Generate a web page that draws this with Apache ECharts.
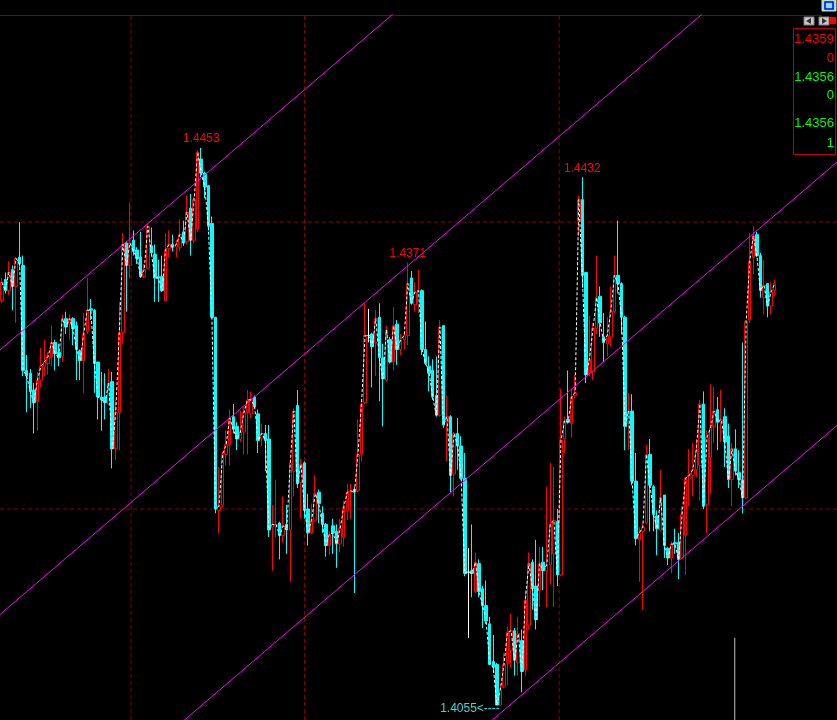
<!DOCTYPE html>
<html><head><meta charset="utf-8">
<script src="https://cdn.jsdelivr.net/npm/echarts@6/dist/echarts.min.js"></script>
<style>html,body{margin:0;padding:0;background:#000;}#c{width:837px;height:720px;}</style>
</head><body><div id="c"></div>
<script>
// ---- data ----
const opens = [
1.4344,1.4359,1.4351,1.4366,1.4354,1.4375,1.4369,1.4294,1.4292,1.4280,
1.4272,1.4287,1.4297,1.4299,1.4303,1.4314,1.4307,1.4304,1.4331,1.4327,
1.4331,1.4326,1.4308,1.4301,1.4322,1.4338,1.4337,1.4300,1.4275,1.4275,
1.4270,1.4286,1.4238,1.4264,1.4321,1.4385,1.4369,1.4387,1.4380,1.4375,
1.4361,1.4367,1.4383,1.4377,1.4361,1.4361,1.4344,1.4381,1.4384,1.4382,
1.4382,1.4393,1.4386,1.4410,1.4387,1.4395,1.4445,1.4435,1.4426,1.4399,
1.4332,1.4194,1.4198,1.4234,1.4241,1.4261,1.4254,1.4245,1.4250,1.4264,
1.4263,1.4275,1.4263,1.4245,1.4249,1.4245,1.4182,1.4183,1.4185,1.4176,
1.4184,1.4180,1.4222,1.4269,1.4214,1.4228,1.4195,1.4178,1.4187,1.4207,
1.4192,1.4184,1.4169,1.4183,1.4179,1.4170,1.4175,1.4194,1.4207,1.4209,
1.4208,1.4234,1.4271,1.4319,1.4320,1.4314,1.4332,1.4303,1.4287,1.4316,
1.4300,1.4327,1.4309,1.4316,1.4319,1.4360,1.4341,1.4341,1.4351,1.4309,
1.4297,1.4294,1.4276,1.4262,1.4326,1.4257,1.4261,1.4220,1.4249,1.4240,
1.4217,1.4150,1.4151,1.4136,1.4156,1.4138,1.4126,1.4113,1.4086,1.4084,
1.4055,1.4068,1.4085,1.4094,1.4108,1.4085,1.4101,1.4080,1.4112,1.4157,
1.4140,1.4137,1.4157,1.4151,1.4155,1.4163,1.4186,1.4148,1.4245,1.4259,
1.4256,1.4276,1.4401,1.4416,1.4364,1.4292,1.4293,1.4324,1.4347,1.4318,
1.4313,1.4318,1.4336,1.4362,1.4356,1.4332,1.4256,1.4265,1.4215,1.4173,
1.4179,1.4185,1.4234,1.4211,1.4190,1.4180,1.4205,1.4167,1.4160,1.4171,
1.4171,1.4160,1.4176,1.4218,1.4219,1.4223,1.4226,1.4270,1.4198,1.4232,
1.4254,1.4266,1.4257,1.4261,1.4247,1.4216,1.4238,1.4221,1.4216,1.4203,
1.4330,1.4375,1.4391,1.4376,1.4346,1.4356,1.4340,1.4351];
const closes = [
1.4357,1.4351,1.4364,1.4354,1.4374,1.4370,1.4294,1.4290,1.4279,1.4271,
1.4287,1.4297,1.4300,1.4304,1.4314,1.4306,1.4303,1.4331,1.4325,1.4331,
1.4324,1.4309,1.4301,1.4320,1.4337,1.4337,1.4299,1.4275,1.4273,1.4271,
1.4285,1.4238,1.4264,1.4321,1.4384,1.4369,1.4385,1.4379,1.4374,1.4361,
1.4366,1.4397,1.4378,1.4360,1.4360,1.4351,1.4380,1.4384,1.4382,1.4384,
1.4391,1.4385,1.4407,1.4387,1.4416,1.4450,1.4435,1.4425,1.4397,1.4332,
1.4195,1.4197,1.4234,1.4241,1.4260,1.4252,1.4245,1.4250,1.4264,1.4273,
1.4273,1.4268,1.4244,1.4249,1.4244,1.4180,1.4184,1.4184,1.4176,1.4183,
1.4180,1.4228,1.4265,1.4213,1.4227,1.4194,1.4178,1.4187,1.4206,1.4199,
1.4184,1.4169,1.4177,1.4178,1.4170,1.4181,1.4196,1.4207,1.4208,1.4207,
1.4234,1.4270,1.4319,1.4319,1.4311,1.4331,1.4303,1.4288,1.4323,1.4300,
1.4326,1.4309,1.4316,1.4319,1.4356,1.4342,1.4350,1.4351,1.4309,1.4299,
1.4292,1.4275,1.4262,1.4325,1.4255,1.4261,1.4219,1.4249,1.4240,1.4217,
1.4149,1.4150,1.4149,1.4157,1.4136,1.4126,1.4115,1.4084,1.4082,1.4055,
1.4066,1.4084,1.4107,1.4108,1.4087,1.4106,1.4079,1.4130,1.4156,1.4138,
1.4116,1.4156,1.4151,1.4155,1.4184,1.4187,1.4148,1.4244,1.4258,1.4257,
1.4275,1.4278,1.4416,1.4362,1.4291,1.4302,1.4324,1.4346,1.4328,1.4314,
1.4319,1.4336,1.4362,1.4356,1.4332,1.4254,1.4265,1.4215,1.4174,1.4178,
1.4182,1.4234,1.4212,1.4191,1.4181,1.4203,1.4169,1.4160,1.4170,1.4170,
1.4159,1.4191,1.4217,1.4219,1.4223,1.4237,1.4270,1.4197,1.4246,1.4253,
1.4265,1.4257,1.4259,1.4243,1.4216,1.4238,1.4222,1.4216,1.4203,1.4329,
1.4372,1.4390,1.4376,1.4351,1.4355,1.4340,1.4350,1.4356];
const lows = [
1.4342,1.4349,1.4348,1.4337,1.4328,1.4368,1.4290,1.4264,1.4267,1.4249,
1.4251,1.4282,1.4290,1.4291,1.4297,1.4294,1.4297,1.4300,1.4320,1.4316,
1.4312,1.4287,1.4287,1.4278,1.4320,1.4330,1.4278,1.4259,1.4251,1.4259,
1.4269,1.4224,1.4230,1.4237,1.4313,1.4336,1.4360,1.4376,1.4370,1.4360,
1.4360,1.4366,1.4376,1.4343,1.4343,1.4350,1.4343,1.4375,1.4379,1.4375,
1.4379,1.4383,1.4384,1.4376,1.4385,1.4393,1.4432,1.4417,1.4394,1.4331,
1.4192,1.4178,1.4196,1.4226,1.4226,1.4249,1.4237,1.4243,1.4234,1.4234,
1.4260,1.4267,1.4235,1.4240,1.4222,1.4175,1.4151,1.4175,1.4159,1.4171,
1.4163,1.4143,1.4204,1.4210,1.4188,1.4188,1.4169,1.4177,1.4186,1.4185,
1.4178,1.4161,1.4162,1.4163,1.4153,1.4164,1.4168,1.4187,1.4188,1.4135,
1.4207,1.4229,1.4270,1.4314,1.4282,1.4290,1.4272,1.4254,1.4286,1.4299,
1.4294,1.4298,1.4305,1.4309,1.4312,1.4341,1.4336,1.4335,1.4305,1.4298,
1.4279,1.4273,1.4261,1.4261,1.4253,1.4229,1.4207,1.4204,1.4223,1.4216,
1.4147,1.4103,1.4132,1.4135,1.4132,1.4110,1.4113,1.4084,1.4078,1.4055,
1.4055,1.4067,1.4069,1.4082,1.4076,1.4076,1.4064,1.4076,1.4109,1.4123,
1.4109,1.4125,1.4137,1.4125,1.4141,1.4125,1.4140,1.4147,1.4235,1.4256,
1.4246,1.4274,1.4390,1.4353,1.4285,1.4290,1.4287,1.4320,1.4318,1.4300,
1.4304,1.4311,1.4335,1.4349,1.4320,1.4237,1.4237,1.4212,1.4169,1.4143,
1.4123,1.4184,1.4179,1.4179,1.4162,1.4179,1.4160,1.4155,1.4149,1.4163,
1.4145,1.4159,1.4148,1.4197,1.4204,1.4218,1.4201,1.4195,1.4178,1.4206,
1.4242,1.4237,1.4243,1.4225,1.4210,1.4197,1.4219,1.4210,1.4192,1.4202,
1.4328,1.4363,1.4375,1.4346,1.4334,1.4332,1.4334,1.4347];
const highs = [
1.4360,1.4364,1.4372,1.4369,1.4375,1.4400,1.4376,1.4305,1.4295,1.4285,
1.4293,1.4310,1.4316,1.4307,1.4326,1.4316,1.4313,1.4334,1.4336,1.4334,
1.4332,1.4329,1.4309,1.4335,1.4360,1.4345,1.4338,1.4300,1.4293,1.4292,
1.4295,1.4293,1.4273,1.4343,1.4392,1.4386,1.4414,1.4394,1.4382,1.4393,
1.4370,1.4399,1.4396,1.4384,1.4373,1.4376,1.4392,1.4394,1.4391,1.4387,
1.4402,1.4401,1.4419,1.4420,1.4418,1.4451,1.4453,1.4436,1.4426,1.4404,
1.4332,1.4225,1.4236,1.4251,1.4266,1.4270,1.4257,1.4265,1.4268,1.4280,
1.4279,1.4276,1.4266,1.4256,1.4255,1.4255,1.4198,1.4216,1.4186,1.4204,
1.4198,1.4229,1.4267,1.4280,1.4231,1.4229,1.4206,1.4199,1.4219,1.4209,
1.4197,1.4185,1.4179,1.4188,1.4184,1.4188,1.4201,1.4213,1.4213,1.4211,
1.4259,1.4272,1.4342,1.4338,1.4321,1.4337,1.4342,1.4313,1.4326,1.4318,
1.4339,1.4330,1.4320,1.4320,1.4371,1.4365,1.4357,1.4366,1.4352,1.4329,
1.4304,1.4302,1.4304,1.4330,1.4326,1.4276,1.4262,1.4250,1.4260,1.4247,
1.4235,1.4167,1.4184,1.4164,1.4159,1.4140,1.4144,1.4118,1.4105,1.4085,
1.4070,1.4092,1.4111,1.4120,1.4110,1.4118,1.4109,1.4137,1.4164,1.4159,
1.4173,1.4168,1.4168,1.4211,1.4228,1.4225,1.4195,1.4281,1.4261,1.4294,
1.4281,1.4291,1.4419,1.4432,1.4364,1.4333,1.4328,1.4376,1.4354,1.4335,
1.4332,1.4354,1.4376,1.4401,1.4357,1.4333,1.4278,1.4277,1.4235,1.4182,
1.4185,1.4241,1.4245,1.4212,1.4194,1.4223,1.4205,1.4168,1.4172,1.4181,
1.4178,1.4197,1.4218,1.4238,1.4242,1.4245,1.4273,1.4279,1.4251,1.4284,
1.4282,1.4275,1.4280,1.4267,1.4256,1.4242,1.4252,1.4237,1.4314,1.4330,
1.4392,1.4397,1.4393,1.4378,1.4373,1.4356,1.4357,1.4359];
const slotCount = 235;                      // bar slots on the time axis (incl. empty right margin)
const categories = Array.from({length: slotCount}, (_, i) => String(i));
// channel lines: [[barIndex, price], [barIndex, price]]
const channelLines = [
  [[-0.5, 1.43086], [234.5, 1.48197]],
  [[-0.5, 1.41197], [234.5, 1.46309]],
  [[-0.5, 1.39316], [234.5, 1.44428]],
  [[-0.5, 1.37436], [234.5, 1.42547]]
];
const gridPrices = [1.4400, 1.4195];
const gridBars = [36.3, 85.0, 156.5];
const volumeSpike = [[205.8, 1.4103], [205.8, 1.4044]];
const peakLabels = [[56, 1.4453, '1.4453'], [114, 1.4371, '1.4371'], [163, 1.4432, '1.4432']];
const lowLabel = [139, 1.4055, '1.4055<----'];
const panelTexts = ['1.4359', '0', '1.4356', '0', '1.4356', '1'];
const panelColors = ['#ff0000', '#ff0000', '#00ff00', '#00ff00', '#00ff00', '#00ff00'];
const panelY = [39, 58, 77, 95, 123, 143];
const yMin = 1.40443, yMax = 1.45479;

// ---- chart ----
const chart = echarts.init(document.getElementById('c'), null, {renderer: 'canvas'});
const FONT = 'Liberation Sans, Arial, sans-serif';
const candleData = opens.map((o, i) => [o, closes[i], lows[i], highs[i]]);
const xLo = -0.5, xHi = slotCount - 0.5;

const series = [];
const gridStyle = {color: '#8c0000', type: [4, 3], width: 1};
gridPrices.forEach(p => series.push({
  type: 'line', xAxisIndex: 1, yAxisIndex: 0, data: [[xLo, p], [xHi, p]], symbol: 'none', silent: true,
  lineStyle: gridStyle, z: 1
}));
gridBars.forEach(b => series.push({
  type: 'line', xAxisIndex: 1, yAxisIndex: 0, data: [[b, yMin], [b, yMax]], symbol: 'none', silent: true,
  lineStyle: gridStyle, z: 1
}));
series.push({
  type: 'line', xAxisIndex: 1, yAxisIndex: 0, data: volumeSpike, symbol: 'none', silent: true,
  lineStyle: {color: '#bbbbbb', width: 1}, z: 1
});
series.push({
  type: 'candlestick', xAxisIndex: 0, yAxisIndex: 0, data: candleData,
  barWidth: 3, z: 3,
  itemStyle: {color: '#000000', color0: '#00ffff', borderColor: '#ff0000', borderColor0: '#00ffff',
              borderColorDoji: '#ffffff', borderWidth: 1},
  markPoint: {
    symbol: 'circle', symbolSize: 0, silent: true,
    data: peakLabels.map(p => ({coord: [p[0], p[1]], value: p[2],
      label: {show: true, position: 'top', distance: 3, formatter: p[2], color: '#ff0000', fontSize: 12, fontFamily: FONT}}))
      .concat([{coord: [lowLabel[0], lowLabel[1]], value: lowLabel[2],
      label: {show: true, position: 'left', distance: 0, offset: [3, 4], formatter: lowLabel[2], color: '#33dddd', fontSize: 12, fontFamily: FONT}}])
  }
});
series.push({
  type: 'line', xAxisIndex: 0, yAxisIndex: 0, data: closes, symbol: 'none', silent: true,
  lineStyle: {color: '#ffffff', width: 1, type: [3, 2]}, z: 5
});
channelLines.forEach(l => series.push({
  type: 'line', xAxisIndex: 1, yAxisIndex: 0, data: l, symbol: 'none', silent: true,
  lineStyle: {color: '#ff00ff', width: 1}, z: 4
}));

const graphic = [
  {type: 'line', shape: {x1: 0, y1: 15.5, x2: 822, y2: 15.5}, style: {stroke: '#8c0000', lineWidth: 1}},
  {type: 'rect', shape: {x: 793.5, y: 28.5, width: 42, height: 126}, style: {fill: '#000', stroke: '#c00000', lineWidth: 1}},
  {type: 'rect', shape: {x: 804, y: 17, width: 10, height: 8}, style: {fill: '#c8c8c8', stroke: '#808080'}},
  {type: 'polygon', shape: {points: [[806, 21], [811, 18], [811, 24]]}, style: {fill: '#303030'}},
  {type: 'rect', shape: {x: 819, y: 17, width: 10, height: 8}, style: {fill: '#c8c8c8', stroke: '#808080'}},
  {type: 'polygon', shape: {points: [[827, 21], [822, 18], [822, 24]]}, style: {fill: '#303030'}},
  {type: 'rect', shape: {x: 830, y: 17, width: 6, height: 7}, style: {fill: '#ff0000'}},
  {type: 'rect', shape: {x: 822, y: 0, width: 14, height: 11}, style: {fill: '#80e0ff', stroke: '#e0e080'}},
  {type: 'rect', shape: {x: 825, y: 2, width: 8, height: 7}, style: {fill: 'none', stroke: '#0000ff', lineWidth: 1.5}}
];
panelTexts.forEach((t, i) => graphic.push({
  type: 'text', x: 834, y: panelY[i],
  style: {text: t, fill: panelColors[i], font: '13px ' + FONT, textAlign: 'right', textVerticalAlign: 'middle', align: 'right', verticalAlign: 'middle'}
}));

chart.setOption({
  backgroundColor: '#000000',
  animation: false,
  grid: {left: 0, right: 0, top: 15, bottom: 0, containLabel: false},
  xAxis: [
    {type: 'category', data: categories, boundaryGap: true, show: false},
    {type: 'value', min: xLo, max: xHi, show: false}
  ],
  yAxis: [{type: 'value', min: yMin, max: yMax, show: false, scale: true}],
  series: series,
  graphic: graphic
});
</script>
</body></html>
